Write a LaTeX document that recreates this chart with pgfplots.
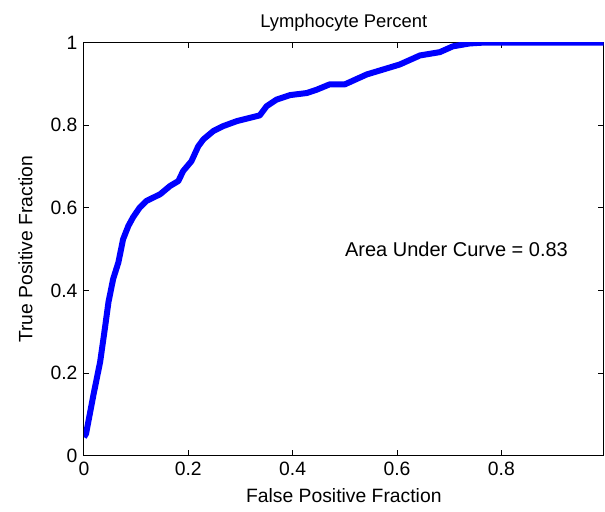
\documentclass[border=0pt]{standalone}
\usepackage{pgfplots}
\pgfplotsset{compat=1.18}
\usepackage{fontspec}
\setmainfont{Liberation Sans}

\begin{document}
\fontsize{14}{16}\selectfont
\begin{tikzpicture}
    \begin{axis}[
        scale only axis,
        width=390pt,
        height=310pt,
        xmin=0, xmax=0.996,
        ymin=0, ymax=1,
        xtick={0,0.2,0.4,0.6,0.8},
        ytick={0,0.2,0.4,0.6,0.8,1},
        tick align=inside,
        major tick length=4pt,
        axis line style={line width=0.8pt},
        tick style={line width=0.8pt, black},
        /pgf/number format/assume math mode=true,
        ticklabel style={font=\fontsize{14.5}{16}\selectfont},
        title={Lymphocyte Percent},
        title style={font=\fontsize{13.8}{15}\selectfont, yshift=-2pt},
        xlabel={False Positive Fraction},
        ylabel={True Positive Fraction},
        label style={font=\fontsize{14.5}{16}\selectfont},
        xlabel style={yshift=0pt},
        ylabel style={yshift=4pt},
        clip=true,
    ]
        \addplot[color=blue, line width=4.5pt, line join=round] coordinates {
            (0.000, 0.045)
            (0.004, 0.053)
            (0.018, 0.146)
            (0.031, 0.227)
            (0.040, 0.307)
            (0.047, 0.372)
            (0.056, 0.428)
            (0.066, 0.468)
            (0.075, 0.524)
            (0.085, 0.556)
            (0.094, 0.577)
            (0.107, 0.601)
            (0.120, 0.617)
            (0.146, 0.633)
            (0.165, 0.653)
            (0.181, 0.665)
            (0.190, 0.689)
            (0.206, 0.713)
            (0.219, 0.749)
            (0.229, 0.766)
            (0.248, 0.786)
            (0.267, 0.798)
            (0.293, 0.810)
            (0.318, 0.818)
            (0.337, 0.824)
            (0.350, 0.846)
            (0.369, 0.862)
            (0.395, 0.873)
            (0.427, 0.878)
            (0.446, 0.886)
            (0.471, 0.899)
            (0.500, 0.899)
            (0.542, 0.923)
            (0.605, 0.947)
            (0.644, 0.969)
            (0.682, 0.977)
            (0.707, 0.991)
            (0.739, 0.998)
            (0.765, 1.000)
            (0.996, 1.000)
        };
        \node[anchor=west, inner sep=0pt, font=\fontsize{15}{17}\selectfont] at (axis cs:0.5,0.5) {Area Under Curve = 0.83};
    \end{axis}
    \pgfresetboundingbox
    \useasboundingbox ([xshift=-63pt,yshift=-42pt]current axis.south west)
        rectangle ([xshift=1pt,yshift=32pt]current axis.north east);
\end{tikzpicture}
\end{document}
